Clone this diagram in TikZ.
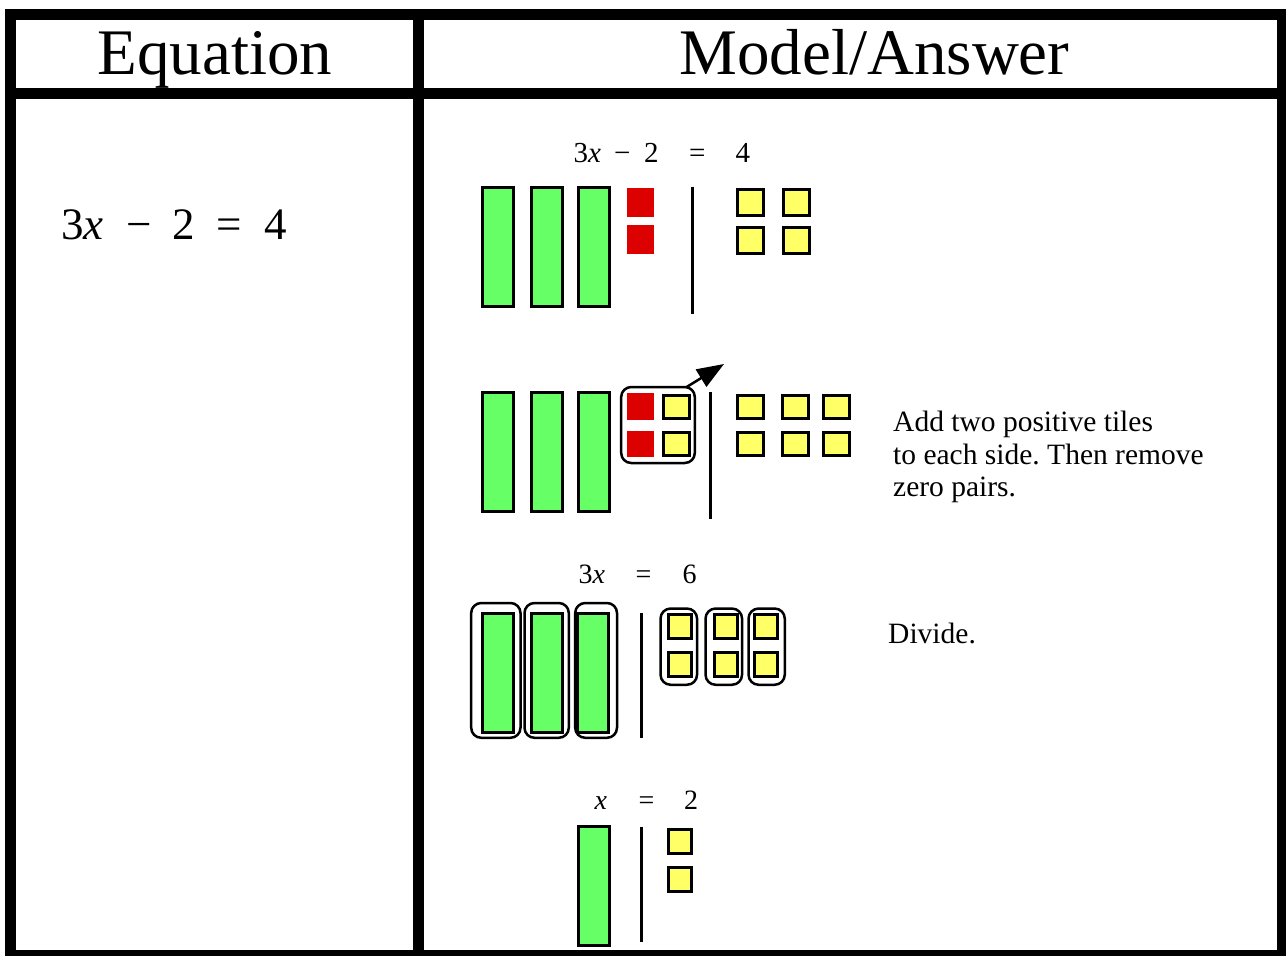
\documentclass[tikz,border=0pt]{standalone}
\usepackage{fontspec}
\setmainfont{Liberation Serif}
\usetikzlibrary{arrows.meta}
\definecolor{tgreen}{RGB}{102,255,102}
\definecolor{tyellow}{RGB}{255,255,102}
\definecolor{tred}{RGB}{221,0,0}
\frenchspacing
\begin{document}
\begin{tikzpicture}[x=1pt,y=-1pt,
  frameline/.style={draw=black,line width=11pt},
  gtile/.style={draw=black,line width=3pt,fill=tgreen,minimum width=31pt,minimum height=119pt,inner sep=0pt,outer sep=0pt},
  ytile/.style={draw=black,line width=3pt,fill=tyellow,minimum width=26pt,minimum height=26pt,inner sep=0pt,outer sep=0pt},
  ytileb/.style={ytile,minimum height=23pt},
  ytilec/.style={ytile,minimum width=23pt,minimum height=24pt},
  rtile/.style={fill=tred,minimum width=27.3pt,minimum height=29pt,inner sep=0pt,outer sep=0pt},
  rtileb/.style={rtile,minimum height=26.7pt},
  divider/.style={draw=black,line width=2.5pt},
  grp/.style={draw=black,line width=2.5pt,rounded corners=10pt,inner sep=0pt,outer sep=0pt},
  tok/.style={anchor=base west,inner sep=0pt},
  headfont/.style={font=\fontsize{65}{78}\selectfont},
  bigeq/.style={tok,font=\fontsize{45}{54}\selectfont},
  eqA/.style={tok,font=\fontsize{29}{34}\selectfont},
  eqB/.style={tok,font=\fontsize{28}{33}\selectfont},
  note/.style={anchor=base west,align=left,inner sep=0pt,font=\fontsize{29.5}{32.5}\selectfont},
  pusharrow/.style={draw=black,line width=2.5pt,-{Triangle[length=27pt,width=20pt]}}
]
\useasboundingbox (0,0) rectangle (1286,956);
% table frame
\draw[frameline] (10.5,14.5) rectangle (1282.5,955.5);
\draw[frameline] (10.5,93.5) -- (1282.5,93.5);
\draw[frameline] (418.5,14.5) -- (418.5,955.5);
% headers
\node[headfont,anchor=base,inner sep=0pt] (hEq) at (215,74) {Equation};
\node[headfont,anchor=base,inner sep=0pt] (hMod) at (874.5,74) {Model/Answer};
% left equation
\node[bigeq] (l1) at (61,239.3) {3\textit{x}};
\node[bigeq] (l2) at (126.5,239.3) {−};
\node[bigeq] (l3) at (172,239.3) {2};
\node[bigeq] (l4) at (216,239.3) {=};
\node[bigeq] (l5) at (264,239.3) {4};

% ---------- row 1 ----------
\node[eqA] (a1) at (573.5,162) {3\textit{x}};
\node[eqA] (a2) at (614,162) {−};
\node[eqA] (a3) at (644,162) {2};
\node[eqA] (a4) at (689,162) {=};
\node[eqA] (a5) at (735.5,162) {4};
\node[gtile] (g11) at (497.5,246.5) {};
\node[gtile] (g12) at (546.5,246.5) {};
\node[gtile] (g13) at (594,246.5) {};
\node[rtile] (r11) at (640.3,202.5) {};
\node[rtile] (r12) at (640.3,239.8) {};
\draw[divider] (692.3,186.7) -- (692.3,314.3);
\node[ytile] (y11) at (750.7,202.8) {};
\node[ytile] (y12) at (796.2,202.8) {};
\node[ytile] (y13) at (750.7,240) {};
\node[ytile] (y14) at (796.2,240) {};

% ---------- row 2 ----------
\node[gtile] (g21) at (497.5,452.2) {};
\node[gtile] (g22) at (546.5,452.2) {};
\node[gtile] (g23) at (594,452.2) {};
\node[grp,minimum width=73.6pt,minimum height=76pt] (zp) at (658,425) {};
\node[rtileb] (r21) at (640.3,406.7) {};
\node[rtileb] (r22) at (640.3,444) {};
\node[ytileb] (y21) at (676.2,407) {};
\node[ytileb] (y22) at (676.2,444.2) {};
\coordinate (arrT) at (724,364);
\draw[pusharrow] (zp.53) -- (arrT);
\draw[divider] (710.7,392.3) -- (710.7,519.3);
\node[ytileb] (y23) at (750.8,406.7) {};
\node[ytileb] (y24) at (795.8,406.7) {};
\node[ytileb] (y25) at (836.5,406.7) {};
\node[ytileb] (y26) at (750.8,443.8) {};
\node[ytileb] (y27) at (795.8,443.8) {};
\node[ytileb] (y28) at (836.5,443.8) {};
\node[note] (n1) at (893,496.7) {Add two positive tiles\\to each side. Then remove\\zero pairs.};

% ---------- row 3 ----------
\node[eqB] (b1) at (578.5,583.3) {3\textit{x}};
\node[eqB] (b2) at (635.5,583.3) {=};
\node[eqB] (b3) at (682.5,583.3) {6};
\node[grp,minimum width=49.3pt,minimum height=134.8pt] (gb1) at (495.85,670.4) {};
\node[grp,minimum width=44.3pt,minimum height=134.8pt] (gb2) at (546.65,670.4) {};
\node[grp,minimum width=41.8pt,minimum height=134.8pt] (gb3) at (596.1,670.4) {};
\node[gtile] (g31) at (497.5,673.2) {};
\node[gtile] (g32) at (546.7,673.2) {};
\node[gtile] (g33) at (593.4,673.2) {};
\draw[divider] (641.7,613.3) -- (641.7,738.3);
\node[grp,minimum width=36.5pt,minimum height=76.2pt] (yb1) at (678.8,646.65) {};
\node[grp,minimum width=36.5pt,minimum height=76.2pt] (yb2) at (723.8,646.65) {};
\node[grp,minimum width=36.2pt,minimum height=76.2pt] (yb3) at (766.65,646.65) {};
\node[ytilec] (y31) at (680.3,626.7) {};
\node[ytilec] (y32) at (680.3,664.7) {};
\node[ytilec] (y33) at (725.7,626.7) {};
\node[ytilec] (y34) at (725.7,664.7) {};
\node[ytilec] (y35) at (765.8,626.7) {};
\node[ytilec] (y36) at (765.8,664.7) {};
\node[note] (n2) at (888,643.3) {Divide.};

% ---------- row 4 ----------
\node[eqB] (c1) at (594.5,809.3) {\textit{x}};
\node[eqB] (c2) at (638.5,809.3) {=};
\node[eqB] (c3) at (684,809.3) {2};
\node[gtile] (g41) at (593.7,886.2) {};
\draw[divider] (641.7,826.7) -- (641.7,941.7);
\node[ytilec] (y41) at (680.3,841.2) {};
\node[ytilec] (y42) at (680.3,879.9) {};
\end{tikzpicture}
\end{document}
